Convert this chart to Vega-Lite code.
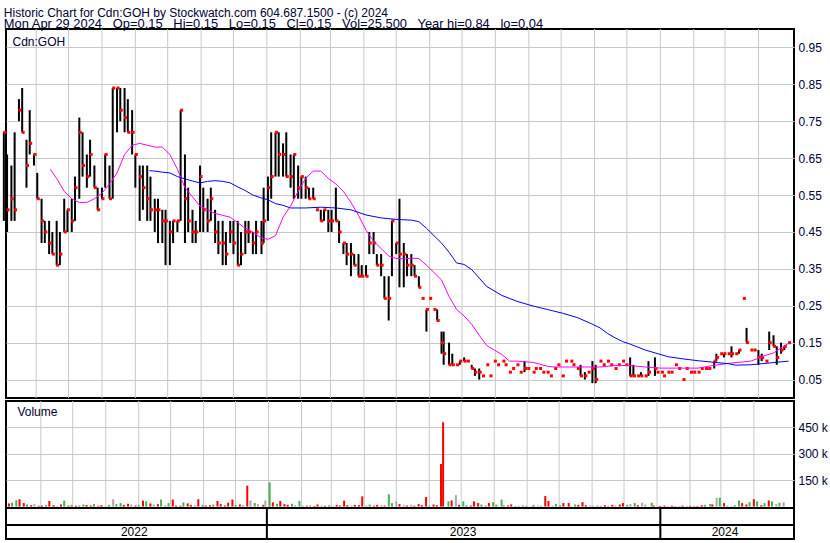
{
"$schema":"https://vega.github.io/schema/vega-lite/v6.json",
"background":"white",
"padding":{"left":1,"top":6,"right":0,"bottom":0},
"config":{"view":{"stroke":"#000000","strokeWidth":2},"axis":{"gridColor":"#c8c8c8","gridWidth":1,"labelFont":"Liberation Sans","labelFontSize":12,"labelColor":"#000033","labelOverlap":false}},
"title":{"text":"Historic Chart for Cdn:GOH by Stockwatch.com 604.687.1500 - (c) 2024","subtitle":"Mon Apr 29 2024 \u00a0 Op=0.15 \u00a0 Hi=0.15 \u00a0 Lo=0.15 \u00a0 Cl=0.15 \u00a0 Vol=25,500 \u00a0 Year hi=0.84 \u00a0 lo=0.04","anchor":"start","font":"Liberation Sans","fontSize":12,"fontWeight":"normal","color":"#000033","subtitleFont":"Liberation Sans","subtitleFontSize":12.9,"subtitleColor":"#000033","subtitlePadding":-2,"offset":-4,"dx":2},
"datasets":{
"px":[
{"d":"2022-05-02","h":0.72,"l":0.48,"c":0.72,"v":18000,"t":"d"},{"d":"2022-05-05","h":0.66,"l":0.45,"c":0.51,"v":22000,"t":"u"},
{"d":"2022-05-09","h":0.63,"l":0.48,"c":0.54,"v":36000,"t":"u"},{"d":"2022-05-12","h":0.72,"l":0.48,"c":0.51,"v":42000,"t":"d"},
{"d":"2022-05-16","h":0.81,"l":0.75,"c":0.78,"v":20000,"t":"d"},{"d":"2022-05-19","h":0.84,"l":0.72,"c":0.72,"v":12000,"t":"u"},
{"d":"2022-05-23","h":0.70,"l":0.57,"c":0.63,"v":8000,"t":"d"},{"d":"2022-05-26","h":0.78,"l":0.66,"c":0.69,"v":14000,"t":"n"},
{"d":"2022-05-30","h":0.66,"l":0.63,"c":0.66,"v":5000,"t":"d"},{"d":"2022-06-02","h":0.61,"l":0.54,"c":0.54,"v":6000,"t":"d"},
{"d":"2022-06-06","h":0.54,"l":0.42,"c":0.48,"v":10000,"t":"u"},{"d":"2022-06-09","h":0.48,"l":0.42,"c":0.45,"v":32000,"t":"d"},
{"d":"2022-06-13","h":0.48,"l":0.39,"c":0.42,"v":8000,"t":"d"},{"d":"2022-06-16","h":0.45,"l":0.39,"c":0.39,"v":4000,"t":"n"},
{"d":"2022-06-20","h":0.48,"l":0.36,"c":0.36,"v":12000,"t":"d"},{"d":"2022-06-23","h":0.45,"l":0.36,"c":0.39,"v":34000,"t":"u"},
{"d":"2022-06-27","h":0.54,"l":0.45,"c":0.45,"v":6000,"t":"d"},{"d":"2022-06-30","h":0.51,"l":0.45,"c":0.51,"v":10000,"t":"u"},
{"d":"2022-07-04","h":0.54,"l":0.45,"c":0.48,"v":5000,"t":"d"},{"d":"2022-07-07","h":0.60,"l":0.48,"c":0.57,"v":8000,"t":"n"},
{"d":"2022-07-11","h":0.76,"l":0.54,"c":0.72,"v":12000,"t":"u"},{"d":"2022-07-14","h":0.72,"l":0.60,"c":0.63,"v":9000,"t":"d"},
{"d":"2022-07-18","h":0.66,"l":0.57,"c":0.60,"v":6000,"t":"d"},{"d":"2022-07-21","h":0.70,"l":0.60,"c":0.66,"v":14000,"t":"u"},
{"d":"2022-07-25","h":0.63,"l":0.57,"c":0.57,"v":5000,"t":"d"},{"d":"2022-07-28","h":0.57,"l":0.51,"c":0.51,"v":8000,"t":"d"},
{"d":"2022-08-01","h":0.57,"l":0.54,"c":0.54,"v":4000,"t":"n"},{"d":"2022-08-04","h":0.66,"l":0.57,"c":0.66,"v":10000,"t":"u"},
{"d":"2022-08-08","h":0.63,"l":0.54,"c":0.54,"v":42000,"t":"n"},{"d":"2022-08-11","h":0.84,"l":0.54,"c":0.84,"v":14000,"t":"u"},
{"d":"2022-08-15","h":0.84,"l":0.72,"c":0.84,"v":20000,"t":"u"},{"d":"2022-08-18","h":0.84,"l":0.75,"c":0.78,"v":10000,"t":"d"},
{"d":"2022-08-22","h":0.84,"l":0.72,"c":0.76,"v":16000,"t":"d"},{"d":"2022-08-25","h":0.81,"l":0.72,"c":0.72,"v":12000,"t":"n"},
{"d":"2022-08-29","h":0.78,"l":0.66,"c":0.72,"v":6000,"t":"d"},{"d":"2022-09-01","h":0.66,"l":0.57,"c":0.66,"v":8000,"t":"u"},
{"d":"2022-09-05","h":0.63,"l":0.48,"c":0.60,"v":34000,"t":"d"},{"d":"2022-09-08","h":0.63,"l":0.51,"c":0.57,"v":30000,"t":"u"},
{"d":"2022-09-12","h":0.63,"l":0.48,"c":0.54,"v":18000,"t":"d"},{"d":"2022-09-15","h":0.60,"l":0.48,"c":0.51,"v":12000,"t":"n"},
{"d":"2022-09-19","h":0.54,"l":0.45,"c":0.51,"v":14000,"t":"d"},{"d":"2022-09-22","h":0.54,"l":0.42,"c":0.51,"v":40000,"t":"u"},
{"d":"2022-09-26","h":0.51,"l":0.42,"c":0.48,"v":8000,"t":"n"},{"d":"2022-09-29","h":0.51,"l":0.36,"c":0.48,"v":20000,"t":"u"},
{"d":"2022-10-03","h":0.48,"l":0.36,"c":0.45,"v":40000,"t":"d"},{"d":"2022-10-06","h":0.48,"l":0.42,"c":0.48,"v":6000,"t":"d"},
{"d":"2022-10-10","h":0.48,"l":0.45,"c":0.48,"v":5000,"t":"d"},{"d":"2022-10-13","h":0.78,"l":0.48,"c":0.78,"v":24000,"t":"u"},
{"d":"2022-10-17","h":0.66,"l":0.42,"c":0.54,"v":18000,"t":"d"},{"d":"2022-10-20","h":0.57,"l":0.45,"c":0.48,"v":10000,"t":"d"},
{"d":"2022-10-24","h":0.51,"l":0.42,"c":0.45,"v":8000,"t":"n"},{"d":"2022-10-27","h":0.48,"l":0.42,"c":0.45,"v":42000,"t":"d"},
{"d":"2022-10-31","h":0.63,"l":0.45,"c":0.60,"v":10000,"t":"u"},{"d":"2022-11-03","h":0.57,"l":0.45,"c":0.51,"v":6000,"t":"d"},
{"d":"2022-11-07","h":0.54,"l":0.45,"c":0.48,"v":8000,"t":"d"},{"d":"2022-11-10","h":0.57,"l":0.48,"c":0.54,"v":12000,"t":"u"},
{"d":"2022-11-14","h":0.51,"l":0.42,"c":0.45,"v":32000,"t":"d"},{"d":"2022-11-17","h":0.48,"l":0.39,"c":0.42,"v":14000,"t":"d"},
{"d":"2022-11-21","h":0.48,"l":0.36,"c":0.42,"v":6000,"t":"d"},{"d":"2022-11-24","h":0.45,"l":0.36,"c":0.39,"v":22000,"t":"d"},
{"d":"2022-11-28","h":0.48,"l":0.42,"c":0.45,"v":40000,"t":"d"},{"d":"2022-12-01","h":0.48,"l":0.39,"c":0.42,"v":10000,"t":"u"},
{"d":"2022-12-05","h":0.48,"l":0.36,"c":0.36,"v":12000,"t":"d"},{"d":"2022-12-08","h":0.45,"l":0.36,"c":0.39,"v":8000,"t":"n"},
{"d":"2022-12-12","h":0.48,"l":0.39,"c":0.45,"v":119000,"t":"d"},{"d":"2022-12-15","h":0.48,"l":0.42,"c":0.45,"v":35000,"t":"n"},
{"d":"2022-12-19","h":0.45,"l":0.39,"c":0.42,"v":20000,"t":"u"},{"d":"2022-12-22","h":0.48,"l":0.39,"c":0.45,"v":14000,"t":"n"},
{"d":"2022-12-27","h":0.48,"l":0.39,"c":0.42,"v":10000,"t":"d"},{"d":"2022-12-29","h":0.57,"l":0.42,"c":0.48,"v":35000,"t":"n"},
{"d":"2023-01-02","h":0.60,"l":0.48,"c":0.57,"v":138000,"t":"u"},{"d":"2023-01-05","h":0.72,"l":0.54,"c":0.60,"v":24000,"t":"d"},
{"d":"2023-01-09","h":0.72,"l":0.60,"c":0.72,"v":16000,"t":"u"},{"d":"2023-01-12","h":0.72,"l":0.60,"c":0.66,"v":32000,"t":"d"},
{"d":"2023-01-16","h":0.69,"l":0.60,"c":0.66,"v":14000,"t":"d"},{"d":"2023-01-19","h":0.72,"l":0.60,"c":0.60,"v":10000,"t":"d"},
{"d":"2023-01-23","h":0.66,"l":0.57,"c":0.60,"v":16000,"t":"u"},{"d":"2023-01-26","h":0.66,"l":0.54,"c":0.66,"v":8000,"t":"n"},
{"d":"2023-01-30","h":0.63,"l":0.54,"c":0.57,"v":32000,"t":"u"},{"d":"2023-02-02","h":0.60,"l":0.54,"c":0.60,"v":6000,"t":"n"},
{"d":"2023-02-06","h":0.60,"l":0.54,"c":0.57,"v":5000,"t":"d"},{"d":"2023-02-09","h":0.57,"l":0.54,"c":0.54,"v":8000,"t":"n"},
{"d":"2023-02-13","h":0.57,"l":0.54,"c":0.54,"v":4000,"t":"d"},{"d":"2023-02-16","h":0.51,"l":0.51,"c":0.51,"v":12000,"t":"d"},
{"d":"2023-02-20","h":0.51,"l":0.48,"c":0.48,"v":6000,"t":"n"},{"d":"2023-02-23","h":0.51,"l":0.48,"c":0.51,"v":5000,"t":"d"},
{"d":"2023-02-27","h":0.51,"l":0.45,"c":0.48,"v":8000,"t":"u"},{"d":"2023-03-02","h":0.51,"l":0.45,"c":0.48,"v":4000,"t":"n"},
{"d":"2023-03-06","h":0.57,"l":0.48,"c":0.48,"v":10000,"t":"d"},{"d":"2023-03-09","h":0.48,"l":0.42,"c":0.45,"v":6000,"t":"d"},
{"d":"2023-03-13","h":0.42,"l":0.39,"c":0.42,"v":34000,"t":"d"},{"d":"2023-03-16","h":0.42,"l":0.36,"c":0.39,"v":8000,"t":"d"},
{"d":"2023-03-20","h":0.42,"l":0.33,"c":0.39,"v":6000,"t":"n"},{"d":"2023-03-23","h":0.39,"l":0.36,"c":0.36,"v":10000,"t":"d"},
{"d":"2023-03-27","h":0.39,"l":0.33,"c":0.33,"v":8000,"t":"d"},{"d":"2023-03-30","h":0.36,"l":0.33,"c":0.33,"v":58000,"t":"d"},
{"d":"2023-04-03","h":0.36,"l":0.33,"c":0.33,"v":6000,"t":"n"},{"d":"2023-04-06","h":0.45,"l":0.39,"c":0.42,"v":12000,"t":"u"},
{"d":"2023-04-10","h":0.45,"l":0.39,"c":0.42,"v":5000,"t":"d"},{"d":"2023-04-13","h":0.39,"l":0.36,"c":0.36,"v":10000,"t":"d"},
{"d":"2023-04-17","h":0.39,"l":0.33,"c":0.36,"v":8000,"t":"n"},{"d":"2023-04-20","h":0.33,"l":0.27,"c":0.27,"v":6000,"t":"d"},
{"d":"2023-04-24","h":0.33,"l":0.21,"c":0.27,"v":70000,"t":"u"},{"d":"2023-04-27","h":0.48,"l":0.33,"c":0.48,"v":20000,"t":"u"},
{"d":"2023-05-01","h":0.42,"l":0.39,"c":0.42,"v":30000,"t":"n"},{"d":"2023-05-04","h":0.54,"l":0.30,"c":0.39,"v":14000,"t":"d"},
{"d":"2023-05-08","h":0.42,"l":0.30,"c":0.39,"v":8000,"t":"n"},{"d":"2023-05-11","h":0.39,"l":0.33,"c":0.36,"v":6000,"t":"d"},
{"d":"2023-05-15","h":0.39,"l":0.33,"c":0.36,"v":10000,"t":"n"},{"d":"2023-05-18","h":0.36,"l":0.33,"c":0.33,"v":5000,"t":"d"},
{"d":"2023-05-22","h":0.33,"l":0.30,"c":0.30,"v":14000,"t":"d"},{"d":"2023-05-25","h":0.27,"l":0.27,"c":0.27,"v":8000,"t":"d"},
{"d":"2023-05-29","h":0.24,"l":0.18,"c":0.24,"v":55000,"t":"d"},{"d":"2023-06-01","h":0.27,"l":0.27,"c":0.27,"v":6000,"t":"n"},
{"d":"2023-06-05","h":0.24,"l":0.24,"c":0.24,"v":12000,"t":"d"},{"d":"2023-06-08","h":0.24,"l":0.21,"c":0.21,"v":8000,"t":"d"},
{"d":"2023-06-12","h":0.18,"l":0.12,"c":0.15,"v":242000,"t":"d"},{"d":"2023-06-14","h":0.18,"l":0.09,"c":0.12,"v":479000,"t":"d"},
{"d":"2023-06-19","h":0.15,"l":0.09,"c":0.09,"v":30000,"t":"u"},{"d":"2023-06-22","h":0.12,"l":0.09,"c":0.09,"v":35000,"t":"d"},
{"d":"2023-06-26","h":0.09,"l":0.09,"c":0.09,"v":65000,"t":"n"},{"d":"2023-06-29","h":0.10,"l":0.09,"c":0.10,"v":10000,"t":"d"},
{"d":"2023-07-03","h":0.11,"l":0.10,"c":0.10,"v":30000,"t":"u"},{"d":"2023-07-06","h":0.10,"l":0.10,"c":0.10,"v":8000,"t":"u"},
{"d":"2023-07-10","h":0.09,"l":0.08,"c":0.08,"v":6000,"t":"d"},{"d":"2023-07-13","h":0.08,"l":0.06,"c":0.07,"v":30000,"t":"d"},
{"d":"2023-07-17","h":0.08,"l":0.05,"c":0.07,"v":20000,"t":"d"},{"d":"2023-07-20","h":0.06,"l":0.06,"c":0.06,"v":12000,"t":"u"},
{"d":"2023-07-24","h":0.09,"l":0.09,"c":0.09,"v":8000,"t":"n"},{"d":"2023-07-27","h":0.06,"l":0.06,"c":0.06,"v":20000,"t":"d"},
{"d":"2023-07-31","h":0.10,"l":0.10,"c":0.10,"v":25000,"t":"u"},{"d":"2023-08-03","h":0.09,"l":0.09,"c":0.09,"v":12000,"t":"u"},
{"d":"2023-08-08","h":0.10,"l":0.10,"c":0.10,"v":40000,"t":"u"},{"d":"2023-08-10","h":0.09,"l":0.09,"c":0.09,"v":10000,"t":"n"},
{"d":"2023-08-14","h":0.07,"l":0.07,"c":0.07,"v":6000,"t":"d"},{"d":"2023-08-17","h":0.08,"l":0.08,"c":0.08,"v":12000,"t":"d"},
{"d":"2023-08-21","h":0.09,"l":0.09,"c":0.09,"v":4000,"t":"u"},{"d":"2023-08-24","h":0.07,"l":0.07,"c":0.07,"v":5000,"t":"n"},
{"d":"2023-08-28","h":0.10,"l":0.07,"c":0.08,"v":8000,"t":"n"},{"d":"2023-08-31","h":0.08,"l":0.08,"c":0.08,"v":4000,"t":"u"},
{"d":"2023-09-05","h":0.07,"l":0.07,"c":0.07,"v":3000,"t":"n"},{"d":"2023-09-07","h":0.08,"l":0.08,"c":0.08,"v":10000,"t":"u"},
{"d":"2023-09-11","h":0.08,"l":0.08,"c":0.08,"v":6000,"t":"n"},{"d":"2023-09-14","h":0.07,"l":0.07,"c":0.07,"v":4000,"t":"u"},
{"d":"2023-09-18","h":0.07,"l":0.07,"c":0.07,"v":60000,"t":"d"},{"d":"2023-09-21","h":0.06,"l":0.06,"c":0.06,"v":32000,"t":"d"},
{"d":"2023-09-25","h":0.08,"l":0.08,"c":0.08,"v":5000,"t":"n"},{"d":"2023-09-28","h":0.09,"l":0.09,"c":0.09,"v":15000,"t":"u"},
{"d":"2023-10-02","h":0.06,"l":0.06,"c":0.06,"v":8000,"t":"u"},{"d":"2023-10-05","h":0.10,"l":0.10,"c":0.10,"v":20000,"t":"d"},
{"d":"2023-10-10","h":0.10,"l":0.10,"c":0.10,"v":20000,"t":"d"},{"d":"2023-10-12","h":0.09,"l":0.09,"c":0.09,"v":4000,"t":"n"},
{"d":"2023-10-16","h":0.08,"l":0.08,"c":0.08,"v":12000,"t":"u"},{"d":"2023-10-19","h":0.09,"l":0.06,"c":0.06,"v":10000,"t":"d"},
{"d":"2023-10-23","h":0.07,"l":0.05,"c":0.06,"v":25000,"t":"d"},{"d":"2023-10-26","h":0.07,"l":0.07,"c":0.07,"v":8000,"t":"d"},
{"d":"2023-10-30","h":0.10,"l":0.04,"c":0.08,"v":6000,"t":"n"},{"d":"2023-11-02","h":0.09,"l":0.04,"c":0.05,"v":5000,"t":"n"},
{"d":"2023-11-06","h":0.10,"l":0.10,"c":0.10,"v":8000,"t":"n"},{"d":"2023-11-09","h":0.09,"l":0.09,"c":0.09,"v":4000,"t":"u"},
{"d":"2023-11-13","h":0.10,"l":0.10,"c":0.10,"v":8000,"t":"d"},{"d":"2023-11-16","h":0.09,"l":0.09,"c":0.09,"v":5000,"t":"n"},
{"d":"2023-11-20","h":0.08,"l":0.08,"c":0.08,"v":10000,"t":"d"},{"d":"2023-11-23","h":0.09,"l":0.09,"c":0.09,"v":6000,"t":"n"},
{"d":"2023-11-27","h":0.10,"l":0.10,"c":0.10,"v":12000,"t":"d"},{"d":"2023-11-30","h":0.09,"l":0.09,"c":0.09,"v":20000,"t":"d"},
{"d":"2023-12-04","h":0.11,"l":0.06,"c":0.06,"v":10000,"t":"u"},{"d":"2023-12-07","h":0.09,"l":0.06,"c":0.06,"v":14000,"t":"n"},
{"d":"2023-12-11","h":0.06,"l":0.06,"c":0.06,"v":20000,"t":"u"},{"d":"2023-12-14","h":0.07,"l":0.06,"c":0.06,"v":8000,"t":"d"},
{"d":"2023-12-18","h":0.06,"l":0.06,"c":0.06,"v":22000,"t":"n"},{"d":"2023-12-21","h":0.10,"l":0.06,"c":0.07,"v":12000,"t":"n"},
{"d":"2023-12-27","h":0.11,"l":0.06,"c":0.08,"v":22000,"t":"u"},{"d":"2023-12-29","h":0.07,"l":0.07,"c":0.07,"v":6000,"t":"d"},
{"d":"2024-01-02","h":0.07,"l":0.07,"c":0.07,"v":3000,"t":"n"},{"d":"2024-01-04","h":0.06,"l":0.06,"c":0.06,"v":4000,"t":"d"},
{"d":"2024-01-08","h":0.07,"l":0.07,"c":0.07,"v":6000,"t":"d"},{"d":"2024-01-11","h":0.07,"l":0.07,"c":0.07,"v":3000,"t":"n"},
{"d":"2024-01-15","h":0.09,"l":0.09,"c":0.09,"v":5000,"t":"d"},{"d":"2024-01-18","h":0.08,"l":0.08,"c":0.08,"v":3000,"t":"u"},
{"d":"2024-01-22","h":0.05,"l":0.05,"c":0.05,"v":3000,"t":"n"},{"d":"2024-01-25","h":0.08,"l":0.08,"c":0.08,"v":6000,"t":"d"},
{"d":"2024-01-29","h":0.07,"l":0.07,"c":0.07,"v":3000,"t":"u"},{"d":"2024-02-01","h":0.07,"l":0.07,"c":0.07,"v":4000,"t":"d"},
{"d":"2024-02-05","h":0.07,"l":0.07,"c":0.07,"v":5000,"t":"n"},{"d":"2024-02-08","h":0.08,"l":0.08,"c":0.08,"v":3000,"t":"d"},
{"d":"2024-02-12","h":0.08,"l":0.08,"c":0.08,"v":8000,"t":"d"},{"d":"2024-02-15","h":0.08,"l":0.08,"c":0.08,"v":10000,"t":"u"},
{"d":"2024-02-20","h":0.10,"l":0.08,"c":0.10,"v":15000,"t":"u"},{"d":"2024-02-22","h":0.12,"l":0.10,"c":0.11,"v":12000,"t":"d"},
{"d":"2024-02-26","h":0.12,"l":0.12,"c":0.12,"v":50000,"t":"n"},{"d":"2024-02-29","h":0.12,"l":0.11,"c":0.12,"v":50000,"t":"u"},
{"d":"2024-03-04","h":0.12,"l":0.12,"c":0.12,"v":20000,"t":"d"},{"d":"2024-03-07","h":0.14,"l":0.11,"c":0.12,"v":6000,"t":"n"},
{"d":"2024-03-11","h":0.12,"l":0.12,"c":0.12,"v":4000,"t":"n"},{"d":"2024-03-14","h":0.13,"l":0.12,"c":0.13,"v":8000,"t":"u"},
{"d":"2024-03-18","h":0.27,"l":0.27,"c":0.27,"v":35000,"t":"u"},{"d":"2024-03-21","h":0.19,"l":0.15,"c":0.15,"v":20000,"t":"d"},
{"d":"2024-03-25","h":0.13,"l":0.13,"c":0.13,"v":12000,"t":"d"},{"d":"2024-03-28","h":0.13,"l":0.13,"c":0.13,"v":25000,"t":"u"},
{"d":"2024-04-01","h":0.13,"l":0.09,"c":0.11,"v":42000,"t":"d"},{"d":"2024-04-04","h":0.12,"l":0.10,"c":0.11,"v":30000,"t":"u"},
{"d":"2024-04-08","h":0.10,"l":0.10,"c":0.10,"v":8000,"t":"d"},{"d":"2024-04-11","h":0.18,"l":0.13,"c":0.15,"v":20000,"t":"u"},
{"d":"2024-04-15","h":0.17,"l":0.14,"c":0.14,"v":35000,"t":"d"},{"d":"2024-04-18","h":0.14,"l":0.09,"c":0.11,"v":30000,"t":"u"},
{"d":"2024-04-22","h":0.15,"l":0.12,"c":0.13,"v":14000,"t":"n"},{"d":"2024-04-25","h":0.14,"l":0.13,"c":0.14,"v":22000,"t":"u"},
{"d":"2024-04-29","h":0.15,"l":0.15,"c":0.15,"v":25500,"t":"n"}
],
"ma1":[
{"d":"2022-06-14","m":0.62},{"d":"2022-06-20","m":0.595},{"d":"2022-06-27","m":0.56},{"d":"2022-07-04","m":0.54},{"d":"2022-07-11","m":0.53},{"d":"2022-07-18","m":0.53},{"d":"2022-07-25","m":0.54},{"d":"2022-08-01","m":0.555},{"d":"2022-08-08","m":0.58},{"d":"2022-08-15","m":0.61},{"d":"2022-08-22","m":0.66},{"d":"2022-08-29","m":0.685},{"d":"2022-09-05","m":0.69},{"d":"2022-09-12","m":0.685},{"d":"2022-09-19","m":0.68},{"d":"2022-09-26","m":0.68},{"d":"2022-10-03","m":0.66},{"d":"2022-10-10","m":0.62},{"d":"2022-10-17","m":0.57},{"d":"2022-10-24","m":0.545},{"d":"2022-10-31","m":0.52},{"d":"2022-11-07","m":0.51},{"d":"2022-11-14","m":0.50},{"d":"2022-11-21","m":0.495},{"d":"2022-11-28","m":0.49},{"d":"2022-12-05","m":0.475},{"d":"2022-12-12","m":0.46},{"d":"2022-12-19","m":0.45},{"d":"2022-12-26","m":0.435},{"d":"2023-01-02","m":0.43},{"d":"2023-01-09","m":0.44},{"d":"2023-01-16","m":0.49},{"d":"2023-01-23","m":0.52},{"d":"2023-01-30","m":0.56},{"d":"2023-02-06","m":0.595},{"d":"2023-02-13","m":0.615},{"d":"2023-02-20","m":0.615},{"d":"2023-02-27","m":0.595},{"d":"2023-03-06","m":0.58},{"d":"2023-03-13","m":0.56},{"d":"2023-03-20","m":0.53},{"d":"2023-03-27","m":0.495},{"d":"2023-04-03","m":0.455},{"d":"2023-04-10","m":0.425},{"d":"2023-04-17","m":0.405},{"d":"2023-04-24","m":0.385},{"d":"2023-05-01","m":0.378},{"d":"2023-05-08","m":0.377},{"d":"2023-05-15","m":0.379},{"d":"2023-05-22","m":0.378},{"d":"2023-05-29","m":0.36},{"d":"2023-06-05","m":0.34},{"d":"2023-06-12","m":0.32},{"d":"2023-06-19","m":0.275},{"d":"2023-06-26","m":0.24},{"d":"2023-07-03","m":0.222},{"d":"2023-07-10","m":0.20},{"d":"2023-07-17","m":0.17},{"d":"2023-07-24","m":0.142},{"d":"2023-07-31","m":0.13},{"d":"2023-08-07","m":0.118},{"d":"2023-08-14","m":0.10},{"d":"2023-08-21","m":0.10},{"d":"2023-08-28","m":0.098},{"d":"2023-09-04","m":0.097},{"d":"2023-09-11","m":0.092},{"d":"2023-09-18","m":0.086},{"d":"2023-09-25","m":0.084},{"d":"2023-10-09","m":0.084},{"d":"2023-10-23","m":0.084},{"d":"2023-11-06","m":0.084},{"d":"2023-11-20","m":0.088},{"d":"2023-12-04","m":0.088},{"d":"2023-12-18","m":0.084},{"d":"2024-01-01","m":0.081},{"d":"2024-01-15","m":0.081},{"d":"2024-02-05","m":0.081},{"d":"2024-02-19","m":0.088},{"d":"2024-03-04","m":0.094},{"d":"2024-03-18","m":0.098},{"d":"2024-03-25","m":0.10},{"d":"2024-04-01","m":0.108},{"d":"2024-04-08","m":0.116},{"d":"2024-04-15","m":0.122},{"d":"2024-04-22","m":0.136},{"d":"2024-04-29","m":0.148}
],
"ma2":[
{"d":"2022-09-14","m":0.616},{"d":"2022-09-19","m":0.615},{"d":"2022-09-26","m":0.612},{"d":"2022-10-03","m":0.61},{"d":"2022-10-10","m":0.60},{"d":"2022-10-17","m":0.594},{"d":"2022-10-24","m":0.588},{"d":"2022-10-31","m":0.583},{"d":"2022-11-07","m":0.587},{"d":"2022-11-14","m":0.589},{"d":"2022-11-21","m":0.587},{"d":"2022-11-28","m":0.583},{"d":"2022-12-05","m":0.572},{"d":"2022-12-12","m":0.562},{"d":"2022-12-19","m":0.55},{"d":"2022-12-26","m":0.543},{"d":"2023-01-02","m":0.537},{"d":"2023-01-09","m":0.527},{"d":"2023-01-16","m":0.522},{"d":"2023-01-23","m":0.515},{"d":"2023-02-06","m":0.515},{"d":"2023-02-20","m":0.517},{"d":"2023-03-06","m":0.515},{"d":"2023-03-20","m":0.51},{"d":"2023-04-03","m":0.496},{"d":"2023-04-17","m":0.488},{"d":"2023-05-01","m":0.484},{"d":"2023-05-15","m":0.482},{"d":"2023-05-22","m":0.478},{"d":"2023-05-29","m":0.46},{"d":"2023-06-05","m":0.44},{"d":"2023-06-12","m":0.42},{"d":"2023-06-19","m":0.395},{"d":"2023-06-26","m":0.366},{"d":"2023-07-03","m":0.362},{"d":"2023-07-10","m":0.348},{"d":"2023-07-17","m":0.325},{"d":"2023-07-24","m":0.302},{"d":"2023-08-07","m":0.278},{"d":"2023-08-21","m":0.262},{"d":"2023-09-04","m":0.25},{"d":"2023-09-18","m":0.24},{"d":"2023-10-02","m":0.23},{"d":"2023-10-16","m":0.218},{"d":"2023-10-30","m":0.20},{"d":"2023-11-06","m":0.19},{"d":"2023-11-13","m":0.175},{"d":"2023-11-20","m":0.163},{"d":"2023-11-27","m":0.153},{"d":"2023-12-04","m":0.146},{"d":"2023-12-11","m":0.138},{"d":"2023-12-18","m":0.13},{"d":"2023-12-25","m":0.124},{"d":"2024-01-08","m":0.112},{"d":"2024-01-22","m":0.106},{"d":"2024-02-05","m":0.101},{"d":"2024-02-19","m":0.097},{"d":"2024-03-04","m":0.093},{"d":"2024-03-11","m":0.089},{"d":"2024-03-25","m":0.09},{"d":"2024-04-08","m":0.094},{"d":"2024-04-22","m":0.098},{"d":"2024-04-29","m":0.10}
],
"mo":[{"d":"2022-06-01"},{"d":"2022-07-01"},{"d":"2022-08-01"},{"d":"2022-09-01"},{"d":"2022-10-01"},{"d":"2022-11-01"},{"d":"2022-12-01"},{"d":"2023-01-01"},{"d":"2023-02-01"},{"d":"2023-03-01"},{"d":"2023-04-01"},{"d":"2023-05-01"},{"d":"2023-06-01"},{"d":"2023-07-01"},{"d":"2023-08-01"},{"d":"2023-09-01"},{"d":"2023-10-01"},{"d":"2023-11-01"},{"d":"2023-12-01"},{"d":"2024-01-01"},{"d":"2024-02-01"},{"d":"2024-03-01"},{"d":"2024-04-01"}],
"yb":[{"d":"2023-01-01"},{"d":"2024-01-01"}],
"yl":[{"d":"2022-08-31","t":"2022"},{"d":"2023-07-02","t":"2023"},{"d":"2024-03-01","t":"2024"}]
},
"bounds":"flush",
"spacing":3,
"vconcat":[
{
"width":788,"height":369,
"layer":[
{"data":{"name":"mo"},"mark":{"type":"rule","color":"#c8c8c8","strokeWidth":1},
 "encoding":{"x":{"field":"d","type":"temporal","scale":{"type":"utc","domain":[{"year":2022,"month":5,"date":4,"utc":true},{"year":2024,"month":5,"date":4,"utc":true}]},"axis":null}}},
{"data":{"name":"px"},"mark":{"type":"rule","color":"#000000","strokeWidth":2},
 "encoding":{
  "x":{"field":"d","type":"temporal"},
  "y":{"field":"l","type":"quantitative","scale":{"domain":[0,1],"nice":false,"zero":false},"axis":{"orient":"right","values":[0.05,0.1,0.15,0.2,0.25,0.3,0.35,0.4,0.45,0.5,0.55,0.6,0.65,0.7,0.75,0.8,0.85,0.9,0.95],"format":".2f","grid":true,"domain":false,"ticks":false,"labelPadding":4,"title":null}},
  "y2":{"field":"h"}}},
{"data":{"name":"px"},"mark":{"type":"square","color":"#ff0000","filled":true,"opacity":1,"size":9,"xOffset":1},
 "encoding":{"x":{"field":"d","type":"temporal"},"y":{"field":"c","type":"quantitative"}}},
{"data":{"name":"ma1"},"mark":{"type":"line","color":"#ff00ff","strokeWidth":1},
 "encoding":{"x":{"field":"d","type":"temporal"},"y":{"field":"m","type":"quantitative"}}},
{"data":{"name":"ma2"},"mark":{"type":"line","color":"#0000ff","strokeWidth":1},
 "encoding":{"x":{"field":"d","type":"temporal"},"y":{"field":"m","type":"quantitative"}}},
{"data":{"values":[{"d":"2022-05-10","p":0.965,"t":"Cdn:GOH"}]},"mark":{"type":"text","align":"left","baseline":"middle","font":"Liberation Sans","fontSize":12,"color":"#000033"},
 "encoding":{"x":{"field":"d","type":"temporal"},"y":{"field":"p","type":"quantitative"},"text":{"field":"t"}}}
]
},
{
"bounds":"flush",
"spacing":0,
"vconcat":[
{
"width":788,"height":107,
"layer":[
{"data":{"name":"mo"},"mark":{"type":"rule","color":"#c8c8c8","strokeWidth":1},
 "encoding":{"x":{"field":"d","type":"temporal","scale":{"type":"utc","domain":[{"year":2022,"month":5,"date":4,"utc":true},{"year":2024,"month":5,"date":4,"utc":true}]},"axis":null}}},
{"data":{"name":"px"},"mark":{"type":"bar","size":2},
 "encoding":{
  "x":{"field":"d","type":"temporal"},
  "y":{"field":"v","type":"quantitative","scale":{"domain":[-8000,600000],"nice":false,"zero":false},"axis":{"orient":"right","values":[150000,300000,450000],"labelExpr":"datum.value/1000 + ' k'","grid":true,"domain":false,"ticks":false,"labelPadding":4,"title":null}},
  "color":{"field":"t","type":"nominal","scale":{"domain":["u","d","n"],"range":["#4cb04c","#ff0000","#a8a8a8"]},"legend":null}}},
{"data":{"values":[{"d":"2022-05-10","v":537000,"t":"Volume"}]},"mark":{"type":"text","align":"left","baseline":"middle","font":"Liberation Sans","fontSize":12,"color":"#000033"},
 "encoding":{"x":{"field":"d","type":"temporal"},"y":{"field":"v","type":"quantitative"},"text":{"field":"t"}}}
]
},
{
"width":788,"height":31,
"layer":[
{"data":{"name":"yb"},"mark":{"type":"rule","color":"#000000","strokeWidth":2},
 "encoding":{"x":{"field":"d","type":"temporal","scale":{"type":"utc","domain":[{"year":2022,"month":5,"date":4,"utc":true},{"year":2024,"month":5,"date":4,"utc":true}]},"axis":null}}},
{"data":{"values":[{"s":"row"}]},"mark":{"type":"rule","color":"#000000","strokeWidth":2},
 "encoding":{"y":{"datum":0.45,"type":"quantitative","scale":{"domain":[0,1],"nice":false,"zero":false},"axis":null}}},
{"data":{"name":"yl"},"mark":{"type":"text","font":"Liberation Sans","fontSize":12,"color":"#000000","baseline":"middle"},
 "encoding":{"x":{"field":"d","type":"temporal"},"y":{"datum":0.22,"type":"quantitative"},"text":{"field":"t"}}}
]
}
]
}
]
}
